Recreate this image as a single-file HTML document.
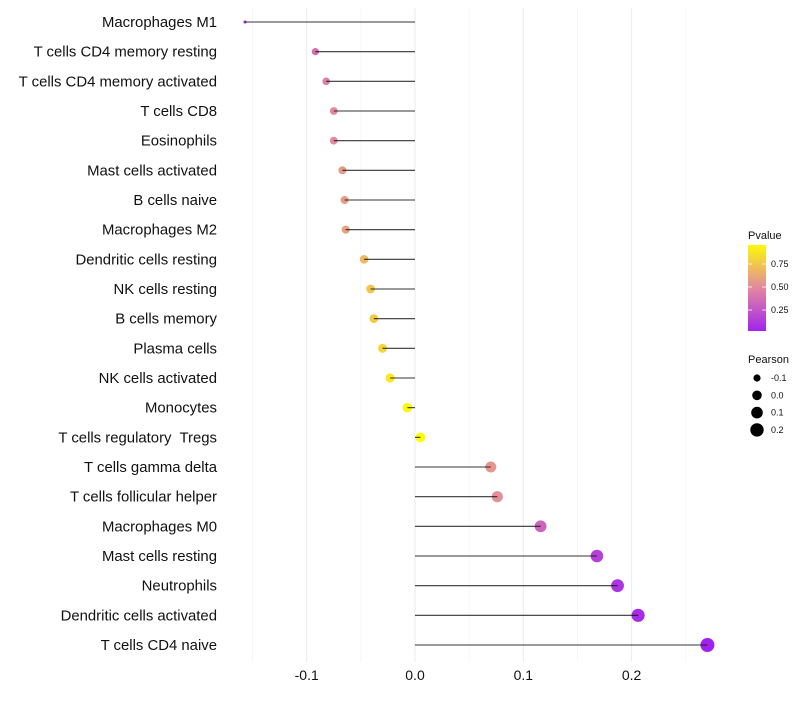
<!DOCTYPE html>
<html><head><meta charset="utf-8"><style>
body{margin:0;background:#fff;font-family:"Liberation Sans",sans-serif}
</style></head><body>
<svg id="c" width="800" height="700" xmlns="http://www.w3.org/2000/svg" font-family="Liberation Sans, sans-serif"></svg>
<script>
const categories=["Macrophages M1","T cells CD4 memory resting","T cells CD4 memory activated","T cells CD8","Eosinophils","Mast cells activated","B cells naive","Macrophages M2","Dendritic cells resting","NK cells resting","B cells memory","Plasma cells","NK cells activated","Monocytes","T cells regulatory  Tregs","T cells gamma delta","T cells follicular helper","Macrophages M0","Mast cells resting","Neutrophils","Dendritic cells activated","T cells CD4 naive"];
const pearson=[-0.157,-0.092,-0.082,-0.075,-0.075,-0.067,-0.065,-0.064,-0.047,-0.041,-0.038,-0.030,-0.023,-0.007,0.005,0.070,0.076,0.116,0.168,0.187,0.206,0.270];
const pvalue=[0.0,0.38,0.46,0.5,0.5,0.57,0.58,0.6,0.7,0.75,0.78,0.82,0.9,0.97,0.99,0.55,0.52,0.32,0.15,0.1,0.05,0.01];
const xTicks=[-0.1,0.0,0.1,0.2];
const xTickLabels=["-0.1","0.0","0.1","0.2"];
const xMinor=[-0.15,-0.05,0.05,0.15,0.25];
const cTicks=[0.25,0.5,0.75];
const cTickLabels=["0.25","0.50","0.75"];
const sizeVals=[-0.1,0.0,0.1,0.2];
const sizeLabels=["-0.1","0.0","0.1","0.2"];

const NS="http://www.w3.org/2000/svg",svg=document.getElementById('c');
function el(t,a,p){const e=document.createElementNS(NS,t);for(const k in a)e.setAttribute(k,a[k]);(p||svg).appendChild(e);return e;}
const x=v=>415+v*1083;
const y=i=>22+i*(623/(categories.length-1));
const pmin=Math.min(...pearson),pmax=Math.max(...pearson);
const r=v=>1.5+5.5*Math.sqrt(Math.max(0,(v-pmin)/(pmax-pmin)));
const stops=[[0,[160,32,240]],[0.5,[226,138,158]],[1,[255,255,0]]];
function col(p){let i=p<=0.5?0:1;const [o1,a]=stops[i],[o2,b]=stops[i+1];const t=(p-o1)/(o2-o1);
return `rgb(${a.map((c,k)=>Math.round(c+(b[k]-c)*t)).join(',')})`;}

xMinor.forEach(v=>{const l=el('line',{x1:x(v),x2:x(v),y1:8,y2:662,stroke:'#f2f2f2','stroke-width':0.6});
});
xTicks.forEach((v,i)=>{const l=el('line',{x1:x(v),x2:x(v),y1:8,y2:662,stroke:'#ebebeb','stroke-width':1});

const t=el('text',{x:x(v),y:680,'text-anchor':'middle','font-size':14,fill:'#111'});t.textContent=xTickLabels[i];
});

categories.forEach((c,i)=>{
const t=el('text',{x:217,y:y(i)+5,'text-anchor':'end','font-size':14.9,fill:'#111','xml:space':'preserve'});t.style.whiteSpace='pre';t.textContent=c;

const d=el('circle',{cx:x(pearson[i]),cy:y(i),r:r(pearson[i]),fill:col(pvalue[i])});

const l=el('line',{x1:x(0),x2:x(pearson[i]),y1:y(i),y2:y(i),stroke:'#111','stroke-width':1.1,'stroke-opacity':0.85});

});

const lt=el('text',{x:748,y:239,'font-size':11,fill:'#111'});lt.textContent='Pvalue';

const defs=el('defs',{});const g=el('linearGradient',{id:'gr',x1:0,y1:1,x2:0,y2:0},defs);
for(let k=0;k<=10;k++){const p=0.02+0.95*k/10;el('stop',{offset:k/10,'stop-color':col(p)},g);}
const cb=el('rect',{x:748,y:245,width:18,height:86,fill:'url(#gr)'});

const cy=p=>333-p*92;
cTicks.forEach((v,i)=>{el('line',{x1:748,x2:752,y1:cy(v),y2:cy(v),stroke:'#fff','stroke-width':0.8});el('line',{x1:762,x2:766,y1:cy(v),y2:cy(v),stroke:'#fff','stroke-width':0.8});
const t=el('text',{x:771,y:cy(v)+3,'font-size':9,fill:'#111'});t.textContent=cTickLabels[i];
});

const st=el('text',{x:748,y:363,'font-size':11,fill:'#111'});st.textContent='Pearson';

const lr=[3.6,4.8,5.8,6.7];
sizeVals.forEach((v,i)=>{const yy=378+i*17.3;
const c=el('circle',{cx:757,cy:yy,r:lr[i],fill:'#000'});
const t=el('text',{x:771,y:yy+3,'font-size':9,fill:'#111'});t.textContent=sizeLabels[i];
});
</script>
</body></html>
